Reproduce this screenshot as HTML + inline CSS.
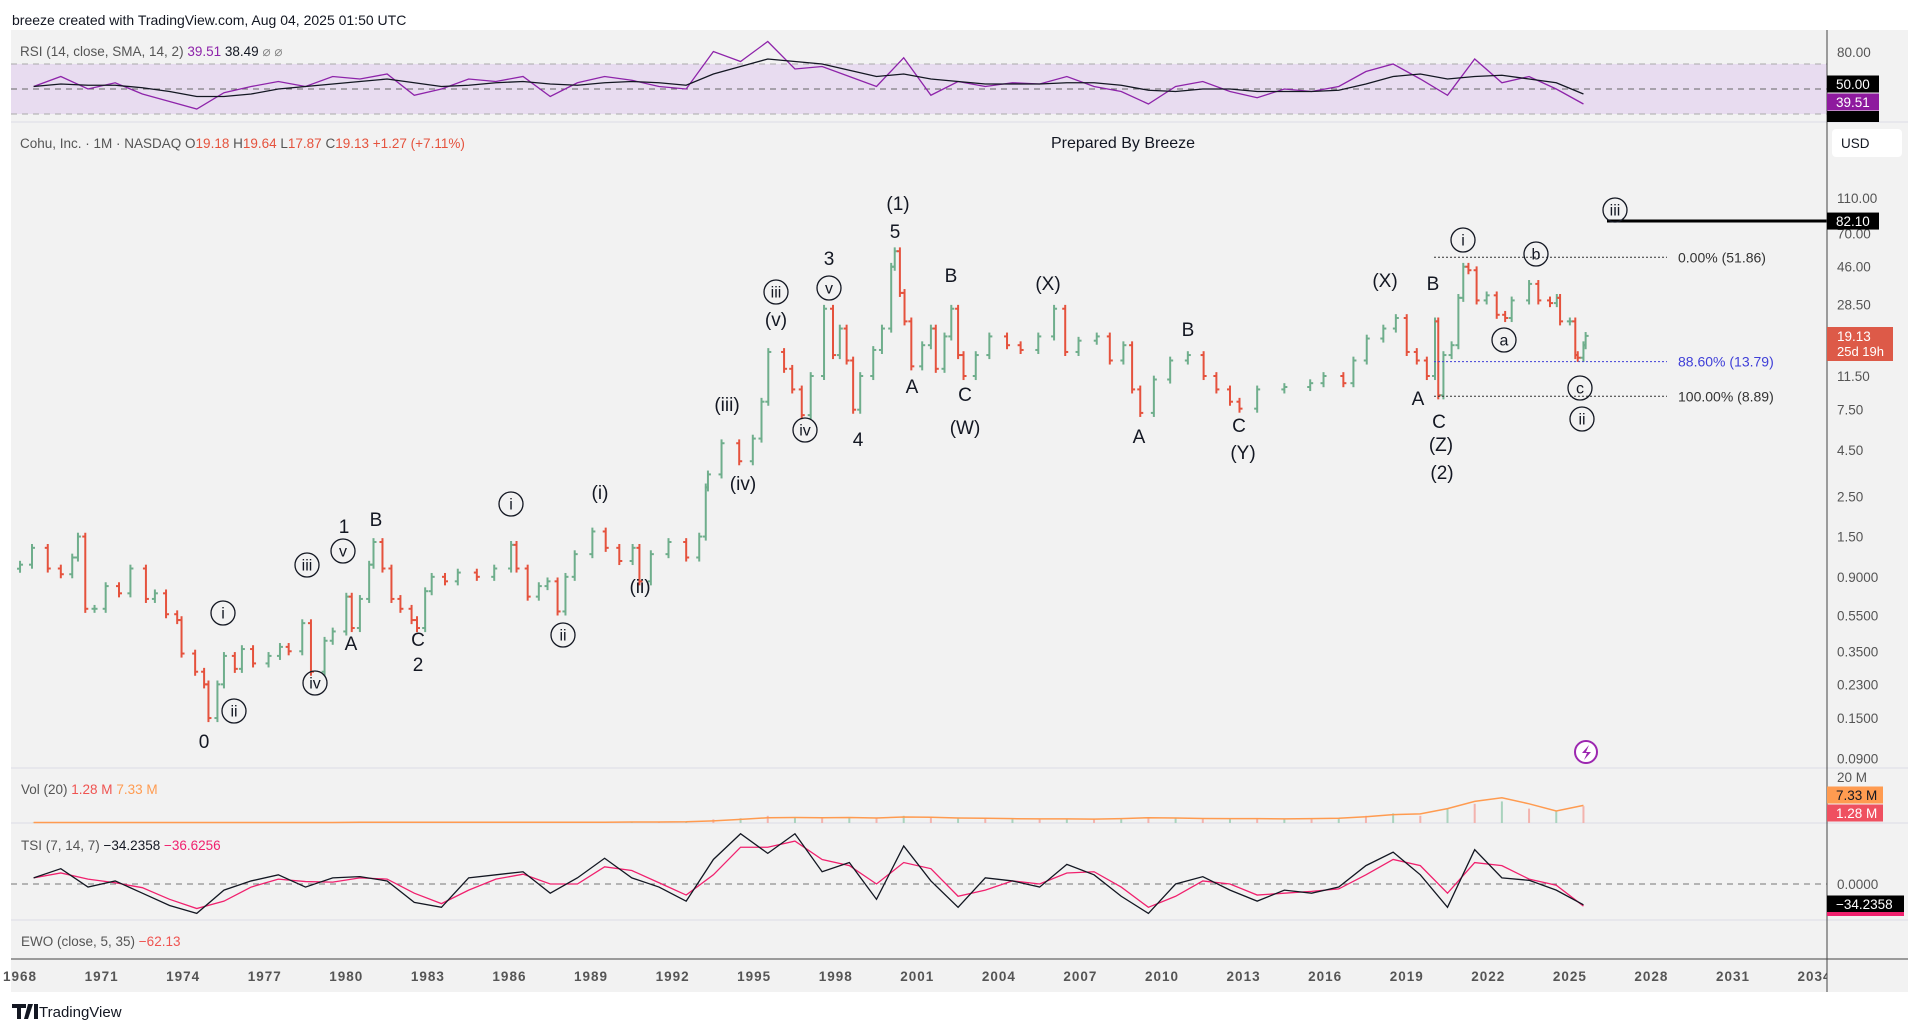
<!DOCTYPE html>
<html><head><meta charset="utf-8"><title>Cohu Inc 1M chart</title>
<style>
html,body{margin:0;padding:0;background:#fff;width:1920px;height:1033px;overflow:hidden}
svg{display:block;font-family:"Liberation Sans",Arial,sans-serif}
</style></head>
<body>
<svg id="root" width="1920" height="1033" viewBox="0 0 1920 1033" xmlns="http://www.w3.org/2000/svg">
<defs>
<clipPath id="plotClip"><rect x="11" y="30" width="1816" height="929"/></clipPath>
<clipPath id="rsiClip"><rect x="11" y="30" width="1816" height="92"/></clipPath>
<clipPath id="tsiClip"><rect x="11" y="823" width="1816" height="97"/></clipPath>
<clipPath id="axisClip"><rect x="0" y="959" width="1827" height="40"/></clipPath>
</defs>
<text x="12" y="25" font-size="14" fill="#131722">breeze created with TradingView.com, Aug 04, 2025 01:50 UTC</text>
<rect x="11" y="30" width="1897" height="962" fill="#f2f2f2"/>
<g>
<rect x="11" y="64" width="1816" height="50" fill="#e8dcf0"/>
<line x1="11" y1="64" x2="1827" y2="64" stroke="#aaa" stroke-dasharray="6,5"/>
<line x1="11" y1="114" x2="1827" y2="114" stroke="#aaa" stroke-dasharray="6,5"/>
<line x1="11" y1="89" x2="1827" y2="89" stroke="#666" stroke-dasharray="6,5"/>
<g id="rsiG" clip-path="url(#rsiClip)"></g>
<text x="20" y="56" font-size="13.5" fill="#555">RSI (14, close, SMA, 14, 2) <tspan fill="#8e24aa">39.51</tspan> <tspan fill="#131722">38.49</tspan> <tspan fill="#888">⌀ ⌀</tspan></text>
</g>
<line x1="11" y1="122" x2="1908" y2="122" stroke="#dcdce6"/>
<line x1="11" y1="768" x2="1908" y2="768" stroke="#dcdce6"/>
<line x1="11" y1="823" x2="1908" y2="823" stroke="#dcdce6"/>
<line x1="11" y1="920" x2="1908" y2="920" stroke="#dcdce6"/>
<text x="20" y="148" font-size="13.5" fill="#555">Cohu, Inc. · 1M · NASDAQ  O<tspan fill="#e5523d">19.18</tspan>  H<tspan fill="#e5523d">19.64</tspan>  L<tspan fill="#e5523d">17.87</tspan>  C<tspan fill="#e5523d">19.13</tspan>  <tspan fill="#e5523d">+1.27 (+7.11%)</tspan></text>
<text x="1123" y="148" font-size="16" fill="#131722" text-anchor="middle">Prepared By Breeze</text>
<g id="priceG" clip-path="url(#plotClip)"></g>
<g id="annotG"></g>
<g id="volG" clip-path="url(#plotClip)"></g>
<text x="21" y="794" font-size="13.5" fill="#555">Vol (20)  <tspan fill="#ef5350">1.28 M</tspan>  <tspan fill="#ff9b50">7.33 M</tspan></text>
<line x1="11" y1="884" x2="1827" y2="884" stroke="#777" stroke-dasharray="6,5"/>
<g id="tsiG" clip-path="url(#tsiClip)"></g>
<text x="21" y="850" font-size="13.5" fill="#555">TSI (7, 14, 7)  <tspan fill="#131722">−34.2358</tspan>  <tspan fill="#f0216e">−36.6256</tspan></text>
<text x="21" y="946" font-size="13.5" fill="#555">EWO (close, 5, 35)  <tspan fill="#ef5350">−62.13</tspan></text>
<line x1="1827" y1="30" x2="1827" y2="992" stroke="#444"/>
<line x1="11" y1="959" x2="1908" y2="959" stroke="#444"/>
<g id="axisG"></g>
<g id="timeG" clip-path="url(#axisClip)"></g>
<g>
<path d="M12 1004h14v4h-5v11h-4v-11h-5z M28 1004h5l-5 15h-4z M34 1004h4v15h-4z" fill="#131722"/>
<text x="39" y="1017" font-size="15" fill="#131722">TradingView</text>
</g>
</svg>
<script>
const priceYears = [1968.0,1968.44,1969.02,1969.5,1969.92,1970.13,1970.4,1970.74,1971.15,1971.64,1972.06,1972.63,1972.96,1973.37,1973.78,1973.94,1974.44,1974.77,1974.93,1975.26,1975.5,1975.9,1976.16,1976.57,1977.14,1977.56,1977.88,1978.38,1978.7,1979.2,1979.5,1980.0,1980.2,1980.5,1980.84,1981.0,1981.33,1981.66,1981.99,1982.4,1982.6,1982.9,1983.14,1983.63,1984.1,1984.8,1985.44,1986.06,1986.26,1986.67,1987.08,1987.4,1987.77,1988.06,1988.4,1989.05,1989.54,1990.04,1990.53,1990.78,1991.2,1991.85,1992.5,1992.98,1993.22,1993.3,1993.8,1994.45,1994.95,1995.27,1995.52,1996.1,1996.4,1996.75,1997.08,1997.57,1997.9,1998.15,1998.4,1998.64,1998.9,1999.38,1999.7,2000.04,2000.17,2000.36,2000.53,2000.78,2001.18,2001.5,2001.68,2002.0,2002.25,2002.5,2002.7,2003.15,2003.65,2004.3,2004.8,2005.45,2006.03,2006.44,2006.93,2007.6,2008.08,2008.58,2008.9,2009.2,2009.7,2010.3,2010.95,2011.53,2012.0,2012.5,2012.85,2013.5,2014.5,2015.45,2015.94,2016.67,2017.04,2017.53,2018.14,2018.6,2019.0,2019.37,2019.74,2020.04,2020.16,2020.35,2020.65,2020.9,2021.08,2021.27,2021.57,2021.94,2022.31,2022.62,2022.86,2023.5,2023.84,2024.27,2024.52,2024.64,2025.0,2025.2,2025.29,2025.5,2025.58];
const priceCloses = [1.05,1.3,1.0,0.93,1.15,1.5,0.6,0.6,0.8,0.73,1.0,0.68,0.73,0.56,0.52,0.34,0.27,0.23,0.15,0.23,0.33,0.28,0.36,0.3,0.33,0.37,0.35,0.5,0.27,0.4,0.45,0.7,0.47,0.68,1.05,1.4,1.0,0.68,0.6,0.52,0.47,0.75,0.9,0.85,0.95,0.9,1.0,1.35,1.0,0.7,0.8,0.85,0.58,0.9,1.2,1.6,1.3,1.1,1.3,0.85,1.2,1.4,1.15,1.5,2.8,3.3,4.9,3.9,5.2,8.3,15.6,12.6,9.7,7.0,11.5,27,15,21,14,7.5,11.5,16,21,46,56,33,23,13,17,21,12.6,19,27,15,11.5,15,19,17,16,19,27,15.6,18,19,14,17,9.7,7.2,11,14,15,11.5,9.7,8.3,7.6,9.7,10,10.5,11.5,10.5,14,18.5,21,24,15.6,14,11.5,23,9,15,17,31,46,44,30,32,25,24,30,37,30,29,31,23,23,15,14.5,17,19.13];
const rsiValues = [52,60,50,55,46,40,34,47,52,56,52,60,58,62,45,50,58,56,60,44,55,60,57,52,50,80,72,88,66,68,60,52,75,45,56,52,55,54,60,52,48,38,52,56,48,43,50,48,52,64,70,58,45,74,55,60,50,38];
const rsiSma =    [52,54,53,53,51,48,44,44,46,50,52,54,56,58,55,52,53,55,56,54,53,55,56,55,53,62,68,74,72,70,65,60,62,58,56,54,54,54,55,55,53,49,48,50,50,48,48,48,49,54,60,62,58,60,61,58,55,46];
const volValues = [0.2,0.2,0.2,0.2,0.2,0.2,0.2,0.2,0.2,0.2,0.2,0.2,0.3,0.3,0.3,0.3,0.3,0.3,0.3,0.3,0.3,0.3,0.4,0.4,0.4,1.5,2,3,2.5,2,2.5,2,3,2.5,2,2,1.8,1.6,1.8,1.5,2,2.5,2,1.8,1.8,1.8,1.6,1.8,2,3,4,3,6,8,9,6,5,7];
const volMa =     [0.2,0.2,0.2,0.2,0.2,0.2,0.2,0.2,0.2,0.2,0.2,0.2,0.3,0.3,0.3,0.3,0.3,0.3,0.3,0.3,0.3,0.3,0.4,0.4,0.5,0.9,1.5,2.2,2.3,2.2,2.3,2.1,2.5,2.4,2.1,2.0,1.8,1.7,1.7,1.6,1.8,2.2,2.1,1.9,1.8,1.8,1.7,1.8,2.0,2.6,3.5,3.8,6,9,10.5,8,5,7.33];
const tsiValues = [10,25,-5,5,-15,-35,-48,-10,5,15,-5,10,12,5,-30,-38,10,15,20,-15,10,42,10,-5,-28,40,82,50,82,20,35,-25,62,5,-38,10,5,-5,32,15,-20,-48,0,12,-10,-28,-10,-15,-5,30,52,15,-38,56,10,6,-10,-34];
const tsiSignal = [10,18,8,2,-6,-25,-40,-28,-5,8,4,3,10,8,-15,-32,-10,8,16,0,0,28,22,2,-18,15,60,60,70,40,30,0,35,25,-20,-10,5,0,18,20,-5,-38,-20,5,0,-18,-15,-12,-8,15,40,30,-15,35,30,8,-2,-36];
const timeTicks = [1968,1971,1974,1977,1980,1983,1986,1989,1992,1995,1998,2001,2004,2007,2010,2013,2016,2019,2022,2025,2028,2031,2034];
const priceTickValues = [110,70,46,28.5,11.5,7.5,4.5,2.5,1.5,0.9,0.55,0.35,0.23,0.15,0.09];
const priceTickLabels = ["110.00","70.00","46.00","28.50","11.50","7.50","4.50","2.50","1.50","0.9000","0.5500","0.3500","0.2300","0.1500","0.0900"];

const NS = "http://www.w3.org/2000/svg";
function xOf(year){ return 101.6 + (year - 1971) * 27.19; }
function yPrice(p){ return 198 + (2.0414 - Math.log10(p)) * 181.5; }
function yRsi(v){ return 89 - (v - 50) * 1.25; }
function yVol(v){ return 823 - v * 2.4; }
function yTsi(v){ return 884 - v * 0.613; }
function mk(tag, attrs, parent){
  const e = document.createElementNS(NS, tag);
  for (const k in attrs) e.setAttribute(k, attrs[k]);
  parent.appendChild(e);
  return e;
}

const priceG = document.getElementById('priceG');
for (let i = 0; i < priceCloses.length; i++) {
  const c = priceCloses[i];
  const o = i > 0 ? priceCloses[i-1] : c * 0.95;
  const hi = Math.max(o, c) * 1.05, lo = Math.min(o, c) * 0.95;
  const x = xOf(priceYears[i]);
  const col = c >= o ? "#6fae8c" : "#e5523d";
  const g = mk('g', {stroke: col, 'stroke-width': 2}, priceG);
  
  
  mk('line', {x1: x, y1: yPrice(hi), x2: x, y2: yPrice(lo)}, g);
  mk('line', {x1: x - 3, y1: yPrice(o), x2: x, y2: yPrice(o)}, g);
  mk('line', {x1: x, y1: yPrice(c), x2: x + 3, y2: yPrice(c)}, g);
}

const annotG = document.getElementById('annotG');
function fibLine(price, color, label, name){
  const y = yPrice(price);
  const l = mk('line', {x1: 1434, y1: y, x2: 1667, y2: y, stroke: color, 'stroke-dasharray': '2,2'}, annotG);
  
  
  const t = mk('text', {x: 1678, y: y + 5, 'font-size': 14, fill: color}, annotG);
  t.textContent = label;
  
  
}
fibLine(51.86, "#333", "0.00% (51.86)", "fib-0");
fibLine(13.79, "#3f3fd8", "88.60% (13.79)", "fib-886");
fibLine(8.89, "#333", "100.00% (8.89)", "fib-100");
const tgt = mk('line', {x1: 1607, y1: yPrice(82.1), x2: 1827, y2: yPrice(82.1), stroke: "#000", 'stroke-width': 3}, annotG);



const plainLabels = [["0",204,748],["1",344,533],["A",351,650],["B",376,526],["C",418,646],["2",418,671],["(i)",600,499],["(ii)",640,593],["(iii)",727,411],["(iv)",743,490],["(v)",776,326],["3",829,265],["4",858,446],["(1)",898,210],["5",895,238],["A",912,393],["B",951,282],["C",965,401],["(W)",965,434],["(X)",1048,290],["A",1139,443],["B",1188,336],["C",1239,432],["(Y)",1243,459],["(X)",1385,287],["B",1433,290],["A",1418,405],["C",1439,428],["(Z)",1441,451],["(2)",1442,479]];
plainLabels.forEach(function(L){
  const t = mk('text', {x: L[1], y: L[2], 'font-size': 19, fill: "#131722", 'text-anchor': 'middle'}, annotG);
  t.textContent = L[0];
  
  
});
const circLabels = [["i",223,613],["ii",234,711],["iii",307,565],["iv",315,683],["v",343,551],["i",511,504],["ii",563,635],["iii",776,292],["iv",805,430],["v",829,288],["i",1463,240],["b",1536,254],["a",1504,340],["c",1580,388],["ii",1582,419],["iii",1615,210]];
circLabels.forEach(function(L){
  const g = mk('g', {}, annotG);
  
  
  mk('circle', {cx: L[1], cy: L[2], r: 12, fill: "none", stroke: "#131722", 'stroke-width': 1.3}, g);
  const t = mk('text', {x: L[1], y: L[2] + 5.5, 'font-size': 16, fill: "#131722", 'text-anchor': 'middle'}, g);
  t.textContent = L[0];
});
const lg = mk('g', {}, annotG);


mk('circle', {cx: 1586, cy: 752, r: 11, fill: "#fff", stroke: "#9c27b0", 'stroke-width': 2}, lg);
mk('path', {d: "M1589 745l-7 8h5l-3 7 7-8h-5z", fill: "#9c27b0"}, lg);

const rsiG = document.getElementById('rsiG');
function linePts(arr, yf){ return arr.map(function(v,i){ return xOf(1968.5 + i) + "," + yf(v); }).join(" "); }
const rsiLine = mk('polyline', {points: linePts(rsiValues, yRsi), fill: "none", stroke: "#8e24aa", 'stroke-width': 1.3}, rsiG);


const rsiSmaLine = mk('polyline', {points: linePts(rsiSma, yRsi), fill: "none", stroke: "#131722", 'stroke-width': 1.3}, rsiG);



const volG = document.getElementById('volG');
volValues.forEach(function(v,i){
  const b = mk('rect', {x: xOf(1968.5 + i) - 1, y: yVol(v), width: 2, height: v * 2.4, fill: i % 2 ? "#f3b3ae" : "#a9d3bd"}, volG);
  
  
});
const vma = mk('polyline', {points: linePts(volMa, yVol), fill: "none", stroke: "#ff9b50", 'stroke-width': 1.5}, volG);



const tsiG = document.getElementById('tsiG');
const tsiSig = mk('polyline', {points: linePts(tsiSignal, yTsi), fill: "none", stroke: "#f0216e", 'stroke-width': 1.3}, tsiG);


const tsiL = mk('polyline', {points: linePts(tsiValues, yTsi), fill: "none", stroke: "#131722", 'stroke-width': 1.3}, tsiG);



const axisG = document.getElementById('axisG');
function axText(txt, y, fill){
  const t = mk('text', {x: 1837, y: y + 5, 'font-size': 13.5, fill: fill || "#555"}, axisG);
  t.textContent = txt;
  
  
  return t;
}
function axBox(txt, y, h, w, bg, fg, name){
  const r = mk('rect', {x: 1827, y: y - h/2, width: w, height: h, fill: bg}, axisG);
  
  
  const t = mk('text', {x: 1836, y: y + 5, 'font-size': 13.5, fill: fg}, axisG);
  t.textContent = txt;
  
  
}
axText("80.00", 52);
axText("20 M", 777);
axText("0.0000", 884);
priceTickValues.forEach(function(v,i){ axText(priceTickLabels[i], yPrice(v)); });
axBox("50.00", 84, 17, 52, "#000", "#fff", "rsi-50-badge");
axBox("39.51", 102, 17, 52, "#8e1a9e", "#fff", "rsi-value-badge");
const clipB = mk('rect', {x: 1827, y: 111, width: 52, height: 11, fill: "#000"}, axisG);


axBox("82.10", yPrice(82.1), 17, 52, "#000", "#fff", "target-price-badge");
const pb = mk('rect', {x: 1827, y: 327, width: 66, height: 34, fill: "#dd5a48"}, axisG);


const pt1 = mk('text', {x: 1837, y: 341, 'font-size': 13.5, fill: "#fff"}, axisG);
pt1.textContent = "19.13";


const pt2 = mk('text', {x: 1837, y: 356, 'font-size': 13, fill: "#fff"}, axisG);
pt2.textContent = "25d 19h";


axBox("7.33 M", 795, 17, 56, "#ff9b50", "#131722", "volume-ma-badge");
axBox("1.28 M", 813, 17, 56, "#ef5060", "#fff", "volume-badge");
axBox("−34.2358", 904, 17, 77, "#000", "#fff", "tsi-badge");
const tsiU = mk('rect', {x: 1827, y: 912, width: 77, height: 4, fill: "#f0216e"}, axisG);


const usd = mk('rect', {x: 1832, y: 129, width: 70, height: 28, rx: 4, fill: "#fff"}, axisG);


const usdT = mk('text', {x: 1841, y: 148, 'font-size': 13.5, fill: "#131722"}, axisG);
usdT.textContent = "USD";



const timeG = document.getElementById('timeG');
timeTicks.forEach(function(yr){
  const t = mk('text', {x: xOf(yr), y: 981, 'font-size': 13.5, 'font-weight': 'bold', fill: "#555", 'text-anchor': 'middle', 'letter-spacing': '1'}, timeG);
  t.textContent = String(yr);
  
  
});
</script>
</body></html>
